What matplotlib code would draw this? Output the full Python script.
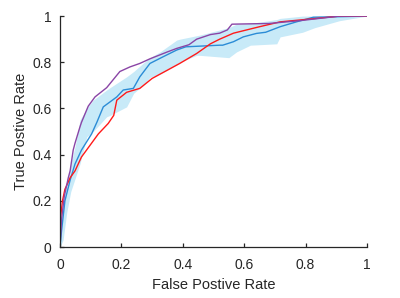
import numpy as np
import matplotlib.pyplot as plt

# mean ROC (blue)
fpr_mean = [0, 0.005, 0.016, 0.033, 0.049, 0.07, 0.103, 0.12, 0.141, 0.185, 0.206, 0.239, 0.26,
            0.293, 0.336, 0.38, 0.41, 0.52, 0.53, 0.565, 0.597, 0.64, 0.67, 0.717, 0.77, 0.825, 1.0]
tpr_mean = [0, 0.07, 0.20, 0.29, 0.36, 0.42, 0.49, 0.54, 0.607, 0.65, 0.68, 0.687, 0.737,
            0.795, 0.824, 0.853, 0.867, 0.874, 0.874, 0.889, 0.91, 0.925, 0.93, 0.954, 0.975, 0.995, 1.0]

# confidence band
fpr_band = [0, 0.01, 0.022, 0.035, 0.05, 0.065, 0.087, 0.108, 0.152, 0.163, 0.217, 0.24, 0.27,
            0.293, 0.326, 0.38, 0.39, 0.445, 0.456, 0.55, 0.575, 0.62, 0.706, 0.717, 0.79, 0.83, 0.91, 1.0]
tpr_low = [0, 0.03, 0.15, 0.24, 0.30, 0.36, 0.477, 0.50, 0.564, 0.57, 0.607, 0.666, 0.70,
           0.735, 0.75, 0.79, 0.80, 0.83, 0.83, 0.82, 0.845, 0.874, 0.88, 0.91, 0.93, 0.95, 0.98, 1.0]
tpr_up = [0, 0.18, 0.28, 0.36, 0.44, 0.55, 0.60, 0.636, 0.68, 0.69, 0.737, 0.76, 0.795,
          0.82, 0.845, 0.896, 0.90, 0.915, 0.918, 0.95, 0.965, 0.968, 0.985, 0.99, 1.0, 1.0, 1.0, 1.0]

# red curve
fpr_red = [0, 0.002, 0.008, 0.016, 0.033, 0.049, 0.07, 0.092, 0.125, 0.157, 0.175, 0.185, 0.217,
           0.26, 0.30, 0.35, 0.39, 0.445, 0.49, 0.52, 0.565, 0.65, 0.717, 0.836, 0.91, 1.0]
tpr_red = [0, 0.13, 0.20, 0.25, 0.30, 0.33, 0.39, 0.43, 0.49, 0.535, 0.57, 0.636, 0.67,
           0.687, 0.73, 0.766, 0.795, 0.838, 0.88, 0.90, 0.926, 0.954, 0.975, 0.99, 1.0, 1.0]

# purple curve
fpr_pur = [0, 0.005, 0.014, 0.027, 0.033, 0.043, 0.049, 0.065, 0.07, 0.092, 0.114, 0.152, 0.195,
           0.228, 0.26, 0.293, 0.35, 0.38, 0.42, 0.445, 0.49, 0.52, 0.545, 0.56, 0.68, 0.78, 0.91, 1.0]
tpr_pur = [0, 0.12, 0.22, 0.30, 0.33, 0.42, 0.45, 0.52, 0.54, 0.61, 0.65, 0.69, 0.76,
           0.78, 0.795, 0.815, 0.845, 0.86, 0.876, 0.90, 0.92, 0.926, 0.94, 0.965, 0.968, 0.98, 1.0, 1.0]

plt.rcParams['font.family'] = ['Liberation Sans', 'DejaVu Sans']

fig = plt.figure(figsize=(4, 2.98), dpi=100)
ax = fig.add_axes([0.15, 0.171, 0.7675, 0.775])

ax.fill_between(fpr_band, tpr_low, tpr_up, color='#c8eaf8', lw=0)
ax.plot(fpr_mean, tpr_mean, color='#2b8cd6', lw=1.0)
ax.plot(fpr_red, tpr_red, color='#ff1a1a', lw=1.0)
ax.plot(fpr_pur, tpr_pur, color='#8a45a6', lw=1.0)

ax.set_xlim(0, 1)
ax.set_ylim(0, 1)
ax.set_xticks([0, 0.2, 0.4, 0.6, 0.8, 1])
ax.set_xticklabels(['0', '0.2', '0.4', '0.6', '0.8', '1'])
ax.set_yticks([0, 0.2, 0.4, 0.6, 0.8, 1])
ax.set_yticklabels(['0', '0.2', '0.4', '0.6', '0.8', '1'])
ax.spines['top'].set_visible(False)
ax.spines['right'].set_visible(False)
for s in ['left', 'bottom']:
    ax.spines[s].set_color('#262626')
    ax.spines[s].set_linewidth(0.9)
ax.tick_params(direction='in', length=3, width=0.9, color='#262626', labelsize=10,
               labelcolor='#262626')
ax.tick_params(axis='x', pad=8)
ax.tick_params(axis='y', pad=6)
ax.set_xlabel('False Postive Rate', fontsize=10.5, color='#262626', labelpad=4)
ax.set_ylabel('True Postive Rate', fontsize=10.5, color='#262626', labelpad=3)

fig.savefig('out.png', dpi=100)
